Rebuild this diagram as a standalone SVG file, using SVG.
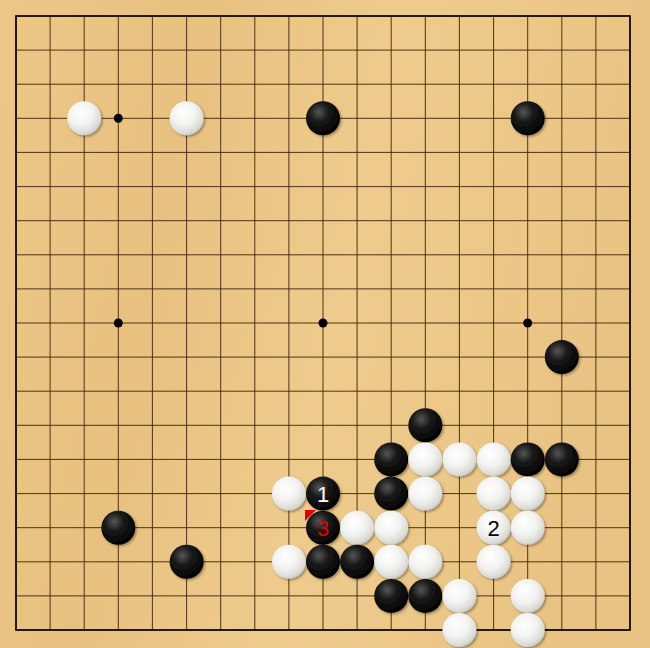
<svg xmlns="http://www.w3.org/2000/svg" width="650" height="648" viewBox="0 0 650 648">
<defs>
<linearGradient id="wood" x1="0" y1="0" x2="1" y2="0.2">
<stop offset="0" stop-color="#ecc788"/>
<stop offset="0.3" stop-color="#e8c180"/>
<stop offset="0.6" stop-color="#eecb8d"/>
<stop offset="1" stop-color="#e9c383"/>
</linearGradient>
<radialGradient id="bg" cx="0.38" cy="0.32" r="0.7">
<stop offset="0" stop-color="#555"/>
<stop offset="0.4" stop-color="#1a1a1a"/>
<stop offset="1" stop-color="#000"/>
</radialGradient>
<radialGradient id="wg" cx="0.4" cy="0.35" r="0.72">
<stop offset="0" stop-color="#ffffff"/>
<stop offset="0.5" stop-color="#f2f2f0"/>
<stop offset="0.85" stop-color="#d8d8d4"/>
<stop offset="1" stop-color="#b4b4ae"/>
</radialGradient>
<filter id="sh" x="-30%" y="-30%" width="160%" height="160%">
<feDropShadow dx="1.5" dy="1.5" stdDeviation="1.2" flood-color="#000" flood-opacity="0.35"/>
</filter>
</defs>
<style>
.g line{stroke:#3a2408;stroke-width:0.9}
.b{fill:url(#bg);filter:url(#sh)}
.w{fill:url(#wg);filter:url(#sh)}
.star{fill:#000}
.lbl{font-family:"Liberation Sans",Arial,sans-serif;font-size:22px;text-anchor:middle;dominant-baseline:central}
</style>
<rect x="0" y="0" width="650" height="648" fill="url(#wood)"/>
<g id="grid" class="g">
<line x1="16" y1="16" x2="630" y2="16"/><line x1="16" y1="50.1" x2="630" y2="50.1"/><line x1="16" y1="84.2" x2="630" y2="84.2"/><line x1="16" y1="118.3" x2="630" y2="118.3"/><line x1="16" y1="152.4" x2="630" y2="152.4"/><line x1="16" y1="186.6" x2="630" y2="186.6"/><line x1="16" y1="220.7" x2="630" y2="220.7"/><line x1="16" y1="254.8" x2="630" y2="254.8"/><line x1="16" y1="288.9" x2="630" y2="288.9"/><line x1="16" y1="323" x2="630" y2="323"/><line x1="16" y1="357.1" x2="630" y2="357.1"/><line x1="16" y1="391.2" x2="630" y2="391.2"/><line x1="16" y1="425.3" x2="630" y2="425.3"/><line x1="16" y1="459.4" x2="630" y2="459.4"/><line x1="16" y1="493.6" x2="630" y2="493.6"/><line x1="16" y1="527.7" x2="630" y2="527.7"/><line x1="16" y1="561.8" x2="630" y2="561.8"/><line x1="16" y1="595.9" x2="630" y2="595.9"/><line x1="16" y1="630" x2="630" y2="630"/>
<line y1="16" x1="16" y2="630" x2="16"/><line y1="16" x1="50.1" y2="630" x2="50.1"/><line y1="16" x1="84.2" y2="630" x2="84.2"/><line y1="16" x1="118.3" y2="630" x2="118.3"/><line y1="16" x1="152.4" y2="630" x2="152.4"/><line y1="16" x1="186.6" y2="630" x2="186.6"/><line y1="16" x1="220.7" y2="630" x2="220.7"/><line y1="16" x1="254.8" y2="630" x2="254.8"/><line y1="16" x1="288.9" y2="630" x2="288.9"/><line y1="16" x1="323" y2="630" x2="323"/><line y1="16" x1="357.1" y2="630" x2="357.1"/><line y1="16" x1="391.2" y2="630" x2="391.2"/><line y1="16" x1="425.3" y2="630" x2="425.3"/><line y1="16" x1="459.4" y2="630" x2="459.4"/><line y1="16" x1="493.6" y2="630" x2="493.6"/><line y1="16" x1="527.7" y2="630" x2="527.7"/><line y1="16" x1="561.8" y2="630" x2="561.8"/><line y1="16" x1="595.9" y2="630" x2="595.9"/><line y1="16" x1="630" y2="630" x2="630"/>
<rect x="16" y="16" width="614" height="614" fill="none" stroke="#1a1006" stroke-width="1.8"/>
</g>
<g id="stars">
<circle class="star" cx="118.3" cy="118.3" r="4.5"/><circle class="star" cx="323" cy="118.3" r="4.5"/><circle class="star" cx="527.7" cy="118.3" r="4.5"/>
<circle class="star" cx="118.3" cy="323" r="4.5"/><circle class="star" cx="323" cy="323" r="4.5"/><circle class="star" cx="527.7" cy="323" r="4.5"/>
<circle class="star" cx="118.3" cy="527.7" r="4.5"/><circle class="star" cx="323" cy="527.7" r="4.5"/><circle class="star" cx="527.7" cy="527.7" r="4.5"/>
</g>
<g id="mark">
<polygon points="305,510 316,510 305,521" fill="#e00000"/>
</g>
<g id="stones">
<circle class="w" cx="84.2" cy="118.3" r="17"/>
<circle class="w" cx="186.6" cy="118.3" r="17"/>
<circle class="b" cx="323" cy="118.3" r="17"/>
<circle class="b" cx="527.7" cy="118.3" r="17"/>
<circle class="b" cx="561.8" cy="357.1" r="17"/>
<circle class="b" cx="425.3" cy="425.3" r="17"/>
<circle class="b" cx="391.2" cy="459.4" r="17"/>
<circle class="w" cx="425.3" cy="459.4" r="17"/>
<circle class="w" cx="459.4" cy="459.4" r="17"/>
<circle class="w" cx="493.6" cy="459.4" r="17"/>
<circle class="b" cx="527.7" cy="459.4" r="17"/>
<circle class="b" cx="561.8" cy="459.4" r="17"/>
<circle class="w" cx="288.9" cy="493.6" r="17"/>
<circle class="b" cx="323" cy="493.6" r="17"/>
<circle class="b" cx="391.2" cy="493.6" r="17"/>
<circle class="w" cx="425.3" cy="493.6" r="17"/>
<circle class="w" cx="493.6" cy="493.6" r="17"/>
<circle class="w" cx="527.7" cy="493.6" r="17"/>
<circle class="b" cx="118.3" cy="527.7" r="17"/>
<circle class="b" cx="323" cy="527.7" r="17"/>
<circle class="w" cx="357.1" cy="527.7" r="17"/>
<circle class="w" cx="391.2" cy="527.7" r="17"/>
<circle class="w" cx="493.6" cy="527.7" r="17"/>
<circle class="w" cx="527.7" cy="527.7" r="17"/>
<circle class="b" cx="186.6" cy="561.8" r="17"/>
<circle class="w" cx="288.9" cy="561.8" r="17"/>
<circle class="b" cx="323" cy="561.8" r="17"/>
<circle class="b" cx="357.1" cy="561.8" r="17"/>
<circle class="w" cx="391.2" cy="561.8" r="17"/>
<circle class="w" cx="425.3" cy="561.8" r="17"/>
<circle class="w" cx="493.6" cy="561.8" r="17"/>
<circle class="b" cx="391.2" cy="595.9" r="17"/>
<circle class="b" cx="425.3" cy="595.9" r="17"/>
<circle class="w" cx="459.4" cy="595.9" r="17"/>
<circle class="w" cx="527.7" cy="595.9" r="17"/>
<circle class="w" cx="459.4" cy="630" r="17"/>
<circle class="w" cx="527.7" cy="630" r="17"/>
</g>
<g id="labels">
<text class="lbl" x="323" y="494" fill="#ffffff">1</text>
<text class="lbl" x="493.6" y="528" fill="#000000">2</text>
<text class="lbl" x="323" y="528" fill="#e00000">3</text>
</g>
</svg>
